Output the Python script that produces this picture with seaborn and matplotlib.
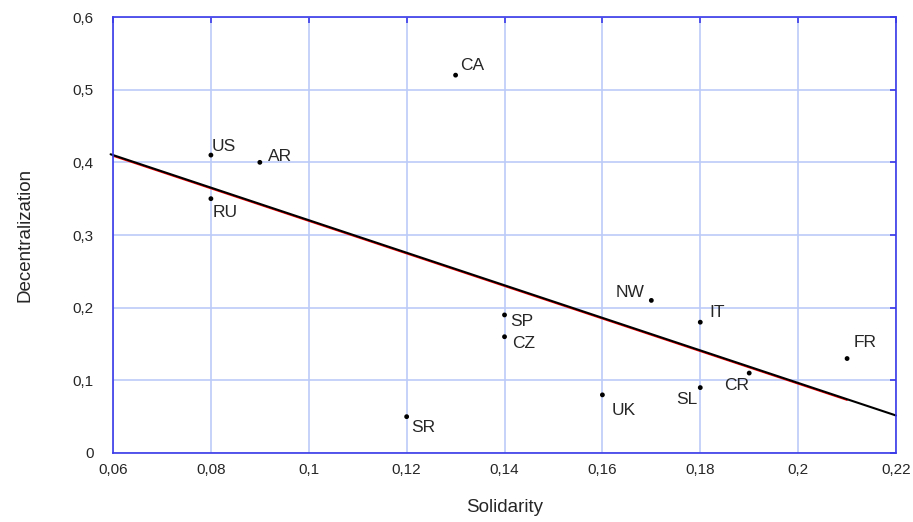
import numpy as np
import pandas as pd
import matplotlib
matplotlib.use("Agg")
import matplotlib.pyplot as plt
import seaborn as sns
from matplotlib.ticker import FuncFormatter, MultipleLocator

# data
countries = ["US", "AR", "RU", "CA", "SP", "CZ", "SR", "UK", "NW", "IT", "SL", "CR", "FR"]
solidarity = [0.08, 0.09, 0.08, 0.13, 0.14, 0.14, 0.12, 0.16, 0.17, 0.18, 0.18, 0.19, 0.21]
decentral = [0.41, 0.40, 0.35, 0.52, 0.19, 0.16, 0.05, 0.08, 0.21, 0.18, 0.09, 0.11, 0.13]

# trend line (value at x0, slope)
fit_x0 = 0.06
fit_y0 = 0.41
fit_slope = -2.24
fit_x = [0.0595, 0.22]
red_x = [0.06, 0.21]

df = pd.DataFrame({"country": countries, "Solidarity": solidarity, "Decentralization": decentral})

sns.set_style("white")
plt.rcParams["font.family"] = ["Liberation Sans", "DejaVu Sans"]

fig = plt.figure(figsize=(9.13, 5.22), dpi=100)
ax = fig.add_axes([0.1238, 0.1322, 0.8576, 0.8352])

blue = "#3a3ae8"
grid_blue = "#bccbf7"

ax.set_xlim(0.06, 0.22)
ax.set_ylim(0, 0.6)
ax.xaxis.set_major_locator(MultipleLocator(0.02))
ax.yaxis.set_major_locator(MultipleLocator(0.1))

def comma(v, pos):
    s = f"{v:.2f}".rstrip("0").rstrip(".")
    if s == "-0":
        s = "0"
    return s.replace(".", ",")

ax.xaxis.set_major_formatter(FuncFormatter(comma))
ax.yaxis.set_major_formatter(FuncFormatter(comma))
ax.grid(True, color=grid_blue, linewidth=1.2)
ax.set_axisbelow(True)
for sp in ax.spines.values():
    sp.set_color(blue)
    sp.set_linewidth(1.2)
ax.tick_params(direction="in", length=4, width=1.2, color=blue, labelsize=11,
               top=True, right=True)
ax.tick_params(axis="x", pad=7)
ax.tick_params(axis="y", pad=14)

# faint red segment just under the black one
ry = [fit_y0 + fit_slope * (x - fit_x0) - 0.0015 for x in red_x]
sns.lineplot(x=red_x, y=ry, ax=ax, color="red", linewidth=0.9)
fy = [fit_y0 + fit_slope * (x - fit_x0) for x in fit_x]
sns.lineplot(x=fit_x, y=fy, ax=ax, color="black", linewidth=1.5)
for l in ax.lines:
    l.set_clip_on(False)

sns.scatterplot(data=df, x="Solidarity", y="Decentralization", ax=ax,
                color="black", s=12, edgecolor="none", zorder=5)

# label offsets in pixels
offsets = {
    "US": (1, 9, "left"), "AR": (8, 6, "left"), "RU": (2, -14, "left"),
    "CA": (5, 10, "left"), "SP": (6, -7, "left"), "CZ": (8, -7, "left"),
    "SR": (5, -11, "left"), "UK": (9, -16, "left"), "NW": (-7, 8, "right"),
    "IT": (9, 10, "left"), "SL": (-3, -12, "right"), "CR": (0, -12, "right"),
    "FR": (7, 16, "left"),
}
for c, x, y in zip(countries, solidarity, decentral):
    dx, dy, ha = offsets[c]
    ax.annotate(c, (x, y), xytext=(dx, dy), textcoords="offset pixels",
                ha=ha, va="center", fontsize=12.5)

ax.set_xlabel("Solidarity", fontsize=13.5, labelpad=16)
ax.set_ylabel("Decentralization", fontsize=13.5, labelpad=28)

fig.savefig("out.png", dpi=100)
